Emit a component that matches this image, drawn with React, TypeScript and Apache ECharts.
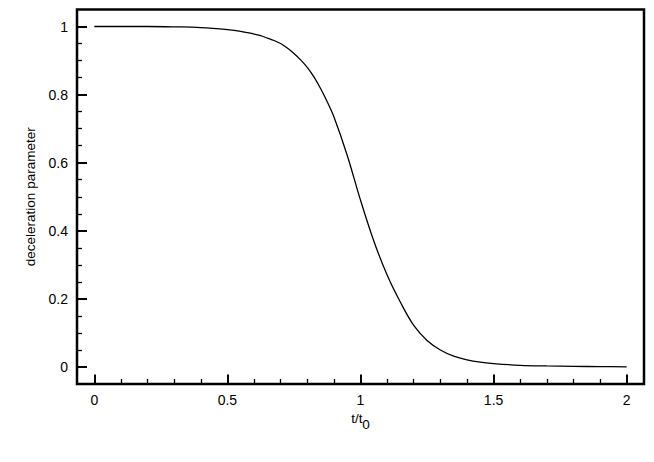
import React, { useEffect, useRef } from "react";
import * as echarts from "echarts";

// Curve: t/t0 vs deceleration parameter
const tValues = [0, 0.1, 0.2, 0.3, 0.4, 0.5, 0.55, 0.6, 0.625, 0.65, 0.675, 0.7, 0.725, 0.75, 0.775, 0.8, 0.825, 0.85, 0.875, 0.9, 0.95, 1.0, 1.05, 1.1, 1.15, 1.2, 1.25, 1.3, 1.35, 1.4, 1.45, 1.5, 1.6, 1.7, 1.8, 1.9, 2.0];
const qValues = [1.0, 1.0, 1.0, 0.999, 0.997, 0.991, 0.986, 0.978, 0.973, 0.966, 0.959, 0.95, 0.937, 0.921, 0.902, 0.88, 0.852, 0.818, 0.779, 0.735, 0.622, 0.49, 0.37, 0.27, 0.19, 0.122, 0.078, 0.05, 0.032, 0.021, 0.014, 0.01, 0.005, 0.003, 0.002, 0.001, 0.0005];

const xTicks = [0, 0.5, 1, 1.5, 2];
const yTicks = [0, 0.2, 0.4, 0.6, 0.8, 1];
const xMinorStep = 0.1;
const yMinorStep = 0.05;

const X_MIN = -0.065;
const X_MAX = 2.065;
const Y_MIN = -0.05;
const Y_MAX = 1.05;

function minorBetween(major: number[], step: number): number[] {
  const out: number[] = [];
  for (let i = 0; i < major.length - 1; i++) {
    const a = major[i];
    const b = major[i + 1];
    const n = Math.round((b - a) / step);
    for (let k = 1; k < n; k++) out.push(+(a + k * step).toFixed(4));
  }
  return out;
}

const FONT = "'Liberation Sans', Arial, Helvetica, sans-serif";

export default function App() {
  const ref = useRef<HTMLDivElement>(null);
  useEffect(() => {
    if (!ref.current) return;
    const chart = echarts.init(ref.current, undefined, { renderer: "svg" });
    const xMinor = minorBetween(xTicks, xMinorStep);
    const yMinor = minorBetween(yTicks, yMinorStep);
    const baseX = {
      type: "value" as const,
      min: X_MIN,
      max: X_MAX,
      gridIndex: 0,
      position: "bottom" as const,
      splitLine: { show: false },
      axisLine: { show: false, onZero: false },
    };
    const baseY = {
      type: "value" as const,
      min: Y_MIN,
      max: Y_MAX,
      gridIndex: 0,
      position: "left" as const,
      splitLine: { show: false },
      axisLine: { show: false, onZero: false },
    };
    chart.setOption({
      animation: false,
      backgroundColor: "#ffffff",
      grid: {
        left: 77,
        right: 10,
        top: 9.5,
        bottom: 78,
        show: true,
        borderColor: "#000",
        borderWidth: 2.5,
        backgroundColor: "transparent",
      },
      xAxis: [
        {
          ...baseX,
          name: "{a|t/t}{b|0}",
          nameLocation: "middle",
          nameGap: 22,
          nameTextStyle: {
            color: "#000",
            fontFamily: FONT,
            rich: {
              a: { fontSize: 13.5, color: "#000", fontFamily: FONT, padding: [0, 0, 6, 0] },
              b: { fontSize: 13.5, color: "#000", fontFamily: FONT, padding: [6, 0, 0, 0] },
            },
          },
          axisTick: {
            show: true,
            inside: true,
            length: 9.5,
            customValues: xTicks,
            lineStyle: { color: "#000", width: 2 },
          },
          axisLabel: {
            show: true,
            customValues: xTicks,
            margin: 9,
            color: "#000",
            fontSize: 14,
            fontFamily: FONT,
          },
        },
        {
          ...baseX,
          axisTick: {
            show: true,
            inside: true,
            length: 5,
            customValues: xMinor,
            lineStyle: { color: "#000", width: 1.3 },
          },
          axisLabel: { show: false },
        },
      ],
      yAxis: [
        {
          ...baseY,
          name: "deceleration parameter",
          nameLocation: "middle",
          nameGap: 31,
          nameRotate: 90,
          nameTextStyle: { color: "#000", fontSize: 13.5, fontFamily: FONT },
          axisTick: {
            show: true,
            inside: true,
            length: 10,
            customValues: yTicks,
            lineStyle: { color: "#000", width: 2 },
          },
          axisLabel: {
            show: true,
            customValues: yTicks,
            margin: 9,
            color: "#000",
            fontSize: 14,
            fontFamily: FONT,
          },
        },
        {
          ...baseY,
          axisTick: {
            show: true,
            inside: true,
            length: 5,
            customValues: yMinor,
            lineStyle: { color: "#000", width: 1.3 },
          },
          axisLabel: { show: false },
        },
      ],
      series: [
        {
          type: "line",
          xAxisIndex: 0,
          yAxisIndex: 0,
          data: tValues.map((t, i) => [t, qValues[i]]),
          smooth: 0.35,
          showSymbol: false,
          symbol: "none",
          lineStyle: { color: "#000", width: 1.3 },
          silent: true,
        },
      ],
    });
    return () => chart.dispose();
  }, []);
  return <div ref={ref} style={{ width: 654, height: 462, position: "absolute", left: 0, top: 0 }} />;
}
